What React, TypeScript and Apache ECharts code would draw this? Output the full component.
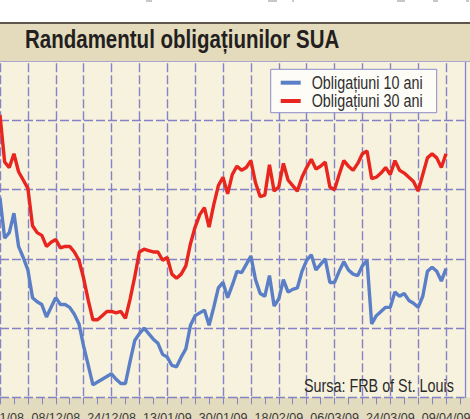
import React, { useEffect, useRef } from "react";
import * as echarts from "echarts";

const dates = [
  "19/11/08","20/11/08","21/11/08","24/11/08","25/11/08","26/11/08","28/11/08",
  "01/12/08","02/12/08","03/12/08","04/12/08","05/12/08","08/12/08","09/12/08","10/12/08","11/12/08","12/12/08",
  "15/12/08","16/12/08","17/12/08","18/12/08","19/12/08","22/12/08","23/12/08","24/12/08","26/12/08",
  "29/12/08","30/12/08","31/12/08","02/01/09","05/01/09","06/01/09","07/01/09","08/01/09","09/01/09",
  "12/01/09","13/01/09","14/01/09","15/01/09","16/01/09","20/01/09","21/01/09","22/01/09","23/01/09",
  "26/01/09","27/01/09","28/01/09","29/01/09","30/01/09","02/02/09","03/02/09","04/02/09","05/02/09","06/02/09",
  "09/02/09","10/02/09","11/02/09","12/02/09","13/02/09","17/02/09","18/02/09","19/02/09","20/02/09",
  "23/02/09","24/02/09","25/02/09","26/02/09","27/02/09","02/03/09","03/03/09","04/03/09","05/03/09","06/03/09",
  "09/03/09","10/03/09","11/03/09","12/03/09","13/03/09","16/03/09","17/03/09","18/03/09","19/03/09","20/03/09",
  "23/03/09","24/03/09","25/03/09","26/03/09","27/03/09","30/03/09","31/03/09","01/04/09","02/04/09","03/04/09",
  "06/04/09","07/04/09","08/04/09","09/04/09"
];

const yield10 = [
  3.44,3.15,3.19,3.33,3.09,3.01,2.92,2.72,2.69,2.67,
  2.58,2.65,2.72,2.67,2.67,2.65,2.60,2.53,2.37,2.23,
  2.09,2.11,2.13,2.15,2.17,2.13,2.10,2.10,2.26,2.41,
  2.46,2.50,2.46,2.42,2.39,2.31,2.29,2.23,2.22,2.29,
  2.35,2.52,2.59,2.61,2.63,2.52,2.65,2.79,2.83,2.72,
  2.81,2.91,2.90,2.96,3.02,2.85,2.75,2.73,2.88,2.66,
  2.71,2.85,2.76,2.78,2.79,2.91,2.99,3.03,2.92,2.96,
  3.00,2.83,2.83,2.91,2.98,2.92,2.89,2.88,2.95,2.99,
  2.53,2.59,2.62,2.65,2.65,2.76,2.73,2.75,2.70,2.68,
  2.65,2.73,2.91,2.94,2.91,2.84,2.93
];

const yield30 = [
  4.04,3.70,3.66,3.76,3.63,3.57,3.51,3.24,3.19,3.17,
  3.09,3.12,3.14,3.08,3.09,3.09,3.05,2.99,2.86,2.70,
  2.56,2.56,2.59,2.62,2.62,2.61,2.62,2.57,2.71,2.87,
  3.05,3.07,3.06,3.05,3.05,2.99,3.01,2.89,2.86,2.89,
  2.95,3.11,3.23,3.32,3.37,3.23,3.39,3.53,3.59,3.47,
  3.61,3.67,3.64,3.66,3.71,3.55,3.45,3.46,3.68,3.49,
  3.52,3.69,3.57,3.53,3.49,3.59,3.66,3.72,3.65,3.67,
  3.70,3.52,3.50,3.61,3.71,3.67,3.64,3.69,3.76,3.78,
  3.58,3.59,3.62,3.66,3.61,3.71,3.64,3.62,3.59,3.56,
  3.49,3.61,3.73,3.76,3.73,3.66,3.76
];

const seriesNames = ["Obligațiuni 10 ani", "Obligațiuni 30 ani"];
const seriesColors = ["#5b7fc7", "#e8261f"];
const titleText = "Randamentul obligațiunilor SUA";
const sourceText = "Sursa: FRB of St. Louis";

const FONT = '"Liberation Sans", Arial, sans-serif';
const GRIDC = "#8583c6";
const NARROW = 0.82;

export default function App() {
  const ref = useRef<HTMLDivElement>(null);
  useEffect(() => {
    if (!ref.current) return;
    const chart = echarts.init(ref.current, null, { renderer: "svg" });
    const cats = [...dates, "", "", "", ""];
    const legendItems: any[] = [];
    seriesNames.forEach((name, i) => {
      const cy = 82.7 + i * 18.3;
      legendItems.push({ type: "rect", z: 61, shape: { x: 280.7, y: cy - 2, width: 20, height: 4 }, style: { fill: seriesColors[i] } });
      legendItems.push({ type: "text", z: 61, x: 311.7, y: cy, scaleX: NARROW,
        style: { text: name, fontFamily: FONT, fontSize: 17.5, fill: "#2e2e2e", verticalAlign: "middle" } });
    });
    const topMarks = [[146, 6], [268, 9], [292, 2], [397, 8], [433, 5], [466, 3]];
    chart.setOption({
      animation: false,
      backgroundColor: "#ffffff",
      grid: {
        left: 0, right: 5.4, top: 51.3, bottom: 21.7,
        containLabel: false, outerBoundsMode: "none",
        show: true, backgroundColor: "#f7f2de", borderWidth: 0,
      },
      xAxis: {
        type: "category", boundaryGap: false, data: cats,
        axisLine: { show: false },
        axisTick: { show: true, interval: 2, length: 7, lineStyle: { color: GRIDC, width: 1 } },
        axisLabel: {
          interval: 11, margin: 14, color: "#3a3a3a", fontFamily: FONT, fontSize: 12.5,
          showMinLabel: true, alignMinLabel: "center", alignMaxLabel: "center",
        },
        splitLine: { show: true, interval: 5, lineStyle: { type: [9, 3], color: GRIDC, width: 1.4 } },
      },
      yAxis: {
        type: "value", min: 2, max: 4.5, interval: 0.5,
        axisLabel: { show: false }, axisLine: { show: false }, axisTick: { show: false },
        splitLine: { show: true, lineStyle: { type: [9, 3], color: GRIDC, width: 1.3 } },
      },
      series: [
        { name: seriesNames[0], type: "line", data: yield10, showSymbol: false,
          lineStyle: { color: seriesColors[0], width: 3.4 }, itemStyle: { color: seriesColors[0] } },
        { name: seriesNames[1], type: "line", data: yield30, showSymbol: false,
          lineStyle: { color: seriesColors[1], width: 3.4 }, itemStyle: { color: seriesColors[1] } },
      ],
      graphic: [
        { type: "rect", z: -1, shape: { x: 0, y: 397.3, width: 470, height: 22 }, style: { fill: "#e2dbbd" } },
        { type: "rect", z: -1, shape: { x: 464.6, y: 62, width: 6, height: 335.3 }, style: { fill: "#f7f2de" } },
        { type: "line", z: 5, shape: { x1: 465.5, y1: 62, x2: 465.5, y2: 398 }, style: { stroke: GRIDC, lineWidth: 1.3 } },
        ...topMarks.map(([x, w]) => ({ type: "rect", z: 100, shape: { x, y: 0, width: w, height: 2 }, style: { fill: "#c8c8c8" } })),
        { type: "rect", z: 100, shape: { x: 0, y: 22, width: 470, height: 2 }, style: { fill: "#5e564a" } },
        { type: "rect", z: 100, shape: { x: 0, y: 24, width: 470, height: 37.5 }, style: { fill: "#e3dbbb" } },
        { type: "line", z: 100, shape: { x1: 0, y1: 61.5, x2: 470, y2: 61.5 }, style: { stroke: "#a9a6cf", lineWidth: 1 } },
        { type: "text", z: 101, x: 25, y: 39.6, scaleX: NARROW,
          style: { text: titleText, fontFamily: FONT, fontWeight: "bold", fontSize: 25, fill: "#231f20", verticalAlign: "middle" } },
        { type: "rect", z: 60, shape: { x: 270.7, y: 69.3, width: 166, height: 43.4 },
          style: { fill: "#fdfcf7", stroke: "#8c8cc8", lineWidth: 1 } },
        ...legendItems,
        { type: "text", z: 50, x: 304, y: 385.6, scaleX: NARROW,
          style: { text: sourceText, fontFamily: FONT, fontSize: 17.5, fill: "#2a2a2a", verticalAlign: "middle" } },
      ],
    });
    return () => chart.dispose();
  }, []);
  return (
    <div ref={ref} style={{ position: "fixed", left: 0, top: 0, width: 470, height: 419 }} />
  );
}
